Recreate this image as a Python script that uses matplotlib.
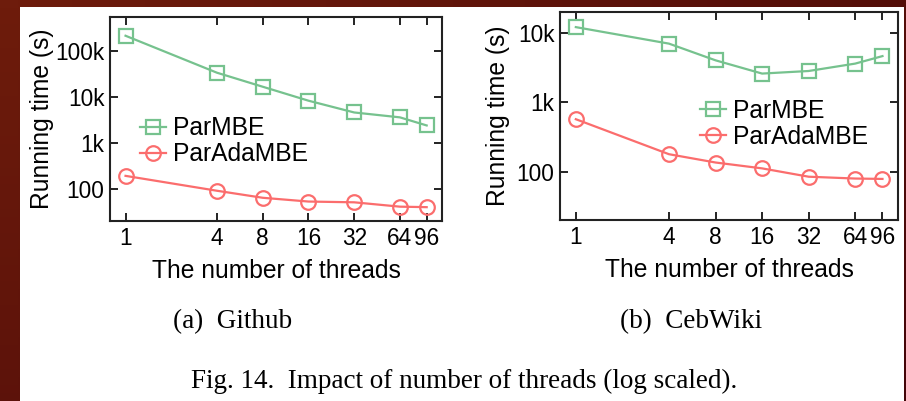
import numpy as np
import matplotlib.pyplot as plt
from matplotlib.ticker import FixedLocator, FixedFormatter, NullLocator

threads = [1, 4, 8, 16, 32, 64, 96]
thread_labels = ['1', '4', '8', '16', '32', '64', '96']

github_parmbe = [215000, 33700, 16700, 8300, 4600, 3600, 2400]
github_paradambe = [192, 91, 64, 53, 51, 41, 40]

cebwiki_parmbe = [12000, 6950, 4000, 2580, 2810, 3590, 4600]
cebwiki_paradambe = [570, 179, 136, 112, 85, 80, 79]

green = '#76c28e'
red = '#fb6d6d'

plt.rcParams['font.family'] = ['Liberation Sans', 'DejaVu Sans']

fig = plt.figure(figsize=(9.06, 4.01), dpi=100)

# dark red slide background with white page on top
bg = fig.add_axes([0, 0, 1, 1], zorder=-10)
gx, gy = np.meshgrid(np.linspace(0, 1, 50), np.linspace(0, 1, 50))
grad = 0.6 * gx + 0.4 * gy
bg.imshow(grad, extent=[0, 1, 0, 1], origin='upper', aspect='auto',
          cmap=plt.matplotlib.colors.LinearSegmentedColormap.from_list('bg', ['#6e1c0c', '#430508']))
bg.add_patch(plt.Rectangle((20 / 906, 0), (904 - 20) / 906, (401 - 7) / 401,
                           facecolor='white', edgecolor='none'))
bg.set_xlim(0, 1)
bg.set_ylim(0, 1)
bg.axis('off')


def draw(ax, parmbe, paradambe, ylim, yticks, ylabels, leg_xy, ylab_x):
    ax.plot(threads, parmbe, '-s', color=green, lw=1.6, ms=10.5, mfc='none',
            mew=1.6, label='ParMBE')
    ax.plot(threads, paradambe, '-o', color=red, lw=1.6, ms=10.5, mfc='none',
            mew=1.6, label='ParAdaMBE')
    ax.set_xscale('log', base=2)
    ax.set_yscale('log')
    ax.set_xlim(0.79, 121)
    ax.set_ylim(*ylim)
    ax.xaxis.set_major_locator(FixedLocator(threads))
    ax.xaxis.set_major_formatter(FixedFormatter(thread_labels))
    ax.xaxis.set_minor_locator(NullLocator())
    ax.yaxis.set_major_locator(FixedLocator(yticks))
    ax.yaxis.set_major_formatter(FixedFormatter(ylabels))
    ax.yaxis.set_minor_locator(NullLocator())
    ax.tick_params(which='major', direction='in', length=6, width=1.4,
                   top=True, right=True, labelsize=16.3, color='#222222')
    ax.tick_params(axis='x', pad=4.5)
    ax.tick_params(axis='y', pad=4)
    for s in ax.spines.values():
        s.set_linewidth(1.5)
        s.set_color('#222222')
    ax.set_xlabel('The number of threads', fontsize=17.7)
    ax.set_ylabel('Running time (s)', fontsize=17.7)
    ax.xaxis.set_label_coords(0.5, -0.185)
    ax.yaxis.set_label_coords(ylab_x, 0.5)
    ax.legend(loc='center left', bbox_to_anchor=leg_xy, frameon=False,
              fontsize=17.7, handlelength=1.05, handletextpad=0.3,
              labelspacing=0.08, borderpad=0, borderaxespad=0)


ax1 = fig.add_axes([0.1214, 0.4489, 0.3664, 0.5087])
draw(ax1, github_parmbe, github_paradambe, (20, 550000),
     [100, 1000, 10000, 100000], ['100', '1k', '10k', '100k'], (0.09, 0.39), -0.168)

ax2 = fig.add_axes([0.6181, 0.4514, 0.3731, 0.5187])
draw(ax2, cebwiki_parmbe, cebwiki_paradambe, (20.3, 19800),
     [100, 1000, 10000], ['100', '1k', '10k'], (0.414, 0.462), -0.147)

serif = ['Liberation Serif', 'DejaVu Serif']
fig.text(233 / 906, 1 - 322 / 401, '(a)  Github', ha='center', va='center',
         fontsize=19.5, family=serif)
fig.text(691 / 906, 1 - 322 / 401, '(b)  CebWiki', ha='center', va='center',
         fontsize=19.5, family=serif)
fig.text(464 / 906, 1 - 381 / 401, 'Fig. 14.  Impact of number of threads (log scaled).',
         ha='center', va='center', fontsize=19.5, family=serif)

fig.savefig('out.png', dpi=100)
